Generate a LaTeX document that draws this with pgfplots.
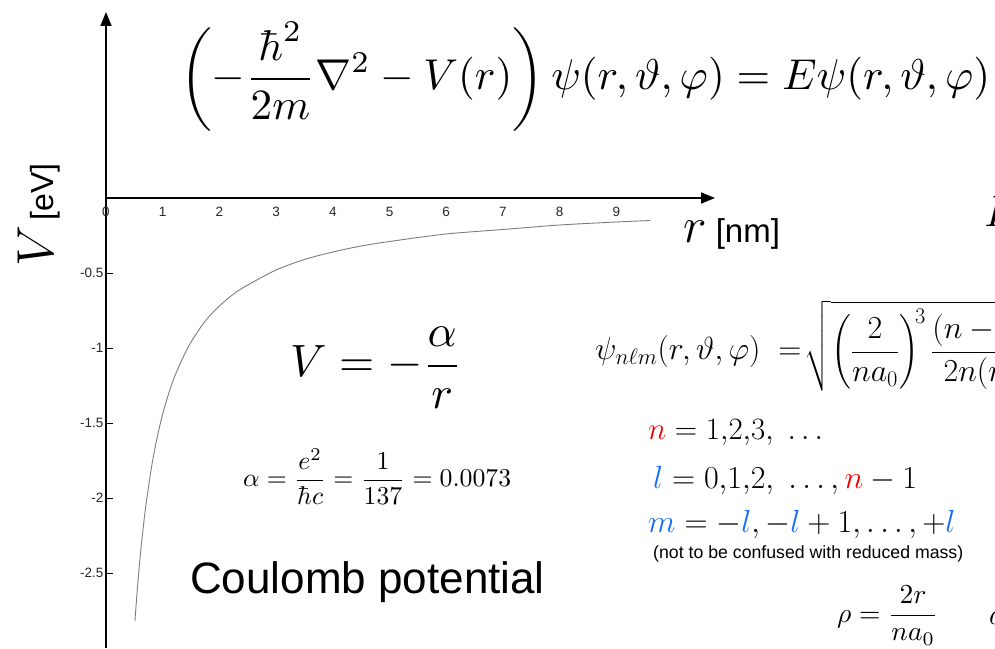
\documentclass[border=0pt]{standalone}
\usepackage{fix-cm}
\usepackage{fontspec}
\setsansfont{Liberation Sans}
\usepackage{amsmath}
\usepackage{graphicx}
\usepackage{xcolor}
\usepackage{pgfplots}
\pgfplotsset{compat=1.18}
\usetikzlibrary{arrows.meta}
\definecolor{qred}{RGB}{245,0,0}
\definecolor{qblue}{RGB}{20,110,255}
\definecolor{curvegray}{RGB}{125,125,125}
\begin{document}
\begin{tikzpicture}[x=1pt,y=1pt]
\path[use as bounding box] (0pt,0pt) rectangle (995pt,648pt);
\clip (0pt,0pt) rectangle (995pt,648pt);

% Coulomb potential V(r) = -alpha/r, r in nm, V in eV
\begin{axis}[
  at={(106pt,0pt)}, anchor=south west,
  scale only axis, width=609pt, height=636pt,
  xmin=0, xmax=10.74, ymin=-3.0, ymax=1.24,
  axis lines=middle,
  hide obscured x ticks=false,
  axis line style={line width=1.6pt, -{Triangle[length=14pt,width=11pt]}},
  xtick={0,1,...,9},
  ytick={-2.5,-2,-1.5,-1,-0.5},
  /pgf/number format/assume math mode=true,
  tick label style={font=\fontsize{13.5}{13.5}\selectfont\sffamily, text=black!85},
  x tick style={draw=none},
  y tick style={line width=0.9pt, black},
  major tick length=7pt,
  tick align=inside,
  xticklabel style={yshift=-6pt},
  yticklabel style={xshift=1pt},
  clip=false,
]
\addplot[curvegray, line width=0.9pt, smooth] coordinates {
  (0.51,-2.82) (0.55,-2.62) (0.60,-2.40) (0.65,-2.22) (0.70,-2.06)
  (0.80,-1.80) (0.90,-1.60) (1.00,-1.44) (1.10,-1.31) (1.20,-1.20)
  (1.35,-1.07) (1.50,-0.96) (1.75,-0.82) (2.00,-0.72) (2.25,-0.64)
  (2.50,-0.58) (3.00,-0.48) (3.50,-0.41) (4.00,-0.36) (4.50,-0.32)
  (5.00,-0.29) (6.00,-0.24) (7.00,-0.21) (8.00,-0.18) (9.00,-0.16)
  (9.60,-0.15)
};
\end{axis}

% axis label of the potential
\node[rotate=90, anchor=base, inner sep=0] at (53pt,433pt)
  {{\fontsize{52}{52}\selectfont$V$}{\fontsize{32}{32}\selectfont\sffamily\,[eV]}};

% axis label of the radius
\node[anchor=base west, inner sep=0] at (683pt,405pt)
  {{\fontsize{50}{50}\selectfont$r$}{\fontsize{33}{33}\selectfont\sffamily\ [nm]}};

% Schroedinger equation
\node[anchor=base west, inner sep=0] at (180pt,558pt)
  {\resizebox{810pt}{!}{$\displaystyle\left(-\frac{\hbar^2}{2m}\nabla^2 - V(r)\right)\psi(r,\vartheta,\varphi) = E\psi(r,\vartheta,\varphi)$}};

% energy levels (continue past the right edge)
\node[anchor=base west, inner sep=0] at (984pt,421pt)
  {{\fontsize{44}{44}\selectfont$E_n = -\dfrac{\alpha^2 m c^2}{2n^2}$}};

% potential and fine-structure constant
\node[anchor=base west, inner sep=0] at (290pt,271pt)
  {\resizebox{172pt}{!}{$\displaystyle V = -\frac{\alpha}{r}$}};
\node[anchor=base west, inner sep=0] at (243pt,161pt)
  {\resizebox{268pt}{!}{$\displaystyle \alpha = \frac{e^2}{\hbar c} = \frac{1}{137} = 0.0073$}};
\node[anchor=base west, inner sep=0] at (190pt,55pt)
  {\fontsize{44}{44}\selectfont\sffamily Coulomb potential};

% hydrogen wave functions
\node[anchor=base west, inner sep=0] at (595pt,288pt)
  {{\fontsize{32}{32}\selectfont$\displaystyle \psi_{n\ell m}(r,\vartheta,\varphi)\;=\mkern-3mu\sqrt{\left(\frac{2}{na_0}\right)^{\!3}\frac{(n-\ell-1)!}{2n(n+\ell)!}}\, e^{-\rho/2}\rho^{\ell} L_{n-\ell-1}^{2\ell+1}(\rho)\, Y_{\ell}^{m}(\vartheta,\varphi)$}};

% quantum numbers
\node[anchor=base west, inner sep=0] at (648pt,208pt)
  {{\fontsize{31}{31}\selectfont$\textcolor{qred}{n} = 1{,}2{,}3{,}\;\ldots$}};
\node[anchor=base west, inner sep=0] at (653pt,160pt)
  {{\fontsize{32}{32}\selectfont$\textcolor{qblue}{l} = 0{,}1{,}2{,}\;\ldots{,}\,\textcolor{qred}{n} - 1$}};
\node[anchor=base west, inner sep=0] at (648pt,116pt)
  {{\fontsize{32}{32}\selectfont$\textcolor{qblue}{m} = -\textcolor{qblue}{l}, -\textcolor{qblue}{l} + 1, \ldots, +\textcolor{qblue}{l}$}};
\node[anchor=base west, inner sep=0] at (653pt,90pt)
  {\resizebox{310pt}{!}{\sffamily (not to be confused with reduced mass)}};

% scaled radius and Bohr radius
\node[anchor=base west, inner sep=0] at (837pt,26pt)
  {\resizebox{101pt}{!}{$\displaystyle \rho = \frac{2r}{na_0}$}};
\node[anchor=base west, inner sep=0] at (989pt,24pt)
  {{\fontsize{30}{30}\selectfont$a_0 = \dfrac{\hbar}{m c \alpha}$}};
\end{tikzpicture}
\end{document}
